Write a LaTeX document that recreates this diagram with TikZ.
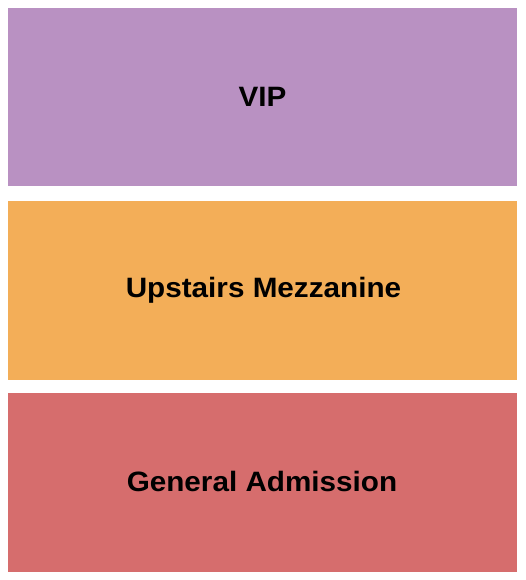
\documentclass[tikz,border=0pt]{standalone}
\usepackage{fontspec}
\setmainfont{Liberation Sans}
\usepackage{tikz}
\definecolor{vipcol}{HTML}{B991C2}
\definecolor{mezzcol}{HTML}{F3AE58}
\definecolor{gacol}{HTML}{D66D6D}
\tikzset{
  section/.style={inner sep=0pt,minimum width=509pt,minimum height=178.5pt},
  seclabel/.style={font=\bfseries\fontsize{28}{32}\selectfont,xscale=1.06,anchor=base,inner sep=0pt}
}

\begin{document}
\begin{tikzpicture}[x=1pt,y=-1pt]
				\useasboundingbox (0,0) rectangle (525,580);
				\fill[white] (0,0) rectangle (525,580);
				\node[section,fill=vipcol] (vip) at (262.5,97) {};%VIP
				\node[section,fill=mezzcol] (mezz) at (262.5,290.5) {};%Mezzanine
				\node[section,fill=gacol] (ga) at (262.5,482.5) {};%GA
				\node[seclabel] (viplabel) at (262.5,106.7) {VIP};
				\node[seclabel] (mezzlabel) at (263.5,297.3) {Upstairs Mezzanine};
				\node[seclabel] (galabel) at (262,491) {General Admission};
			\end{tikzpicture}
\end{document}
